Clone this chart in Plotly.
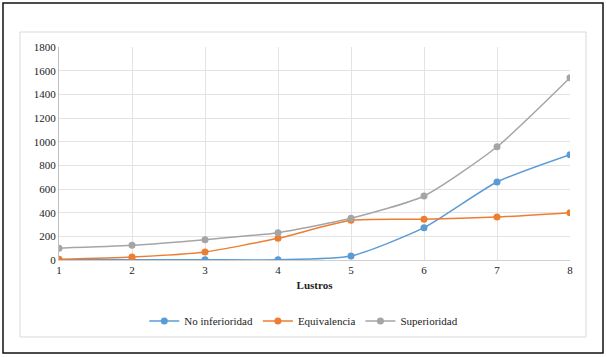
import plotly.graph_objects as go

lustros = [1, 2, 3, 4, 5, 6, 7, 8]
no_inferioridad = [2, 2, 2, 2, 34, 273, 659, 890]
equivalencia = [6, 25, 68, 183, 335, 344, 363, 400]
superioridad = [100, 124, 172, 231, 352, 541, 957, 1540]
y_ticks = [0, 200, 400, 600, 800, 1000, 1200, 1400, 1600, 1800]

series = [
    ("No inferioridad", no_inferioridad, "#5B9BD5"),
    ("Equivalencia", equivalencia, "#ED7D31"),
    ("Superioridad", superioridad, "#A5A5A5"),
]

fig = go.Figure()
for name, vals, color in series:
    fig.add_trace(go.Scatter(
        x=lustros, y=vals, name=name, mode="lines+markers",
        line=dict(color=color, width=1.5, shape="spline", smoothing=0.6),
        marker=dict(color=color, size=7),
    ))

font_family = "Times New Roman, Liberation Serif, serif"
fig.update_layout(
    width=607, height=357,
    margin=dict(l=59, r=37, t=47, b=97),
    paper_bgcolor="white", plot_bgcolor="white",
    font=dict(family=font_family, size=11, color="#222"),
    showlegend=True,
    legend=dict(orientation="h", x=0.479, y=-0.286, xanchor="center", yanchor="middle",
                font=dict(family=font_family, size=11, color="#222"),
                itemwidth=30, tracegroupgap=0, bgcolor="rgba(0,0,0,0)"),
    xaxis=dict(range=[1, 8], tickvals=lustros, showgrid=True, gridcolor="#e3e3e3",
               gridwidth=1, zeroline=False, showline=True, linecolor="#d0d0d0",
               ticks="", tickfont=dict(family=font_family, size=11),
               title=dict(text="<b>Lustros</b>", font=dict(family=font_family, size=11), standoff=6)),
    yaxis=dict(range=[0, 1800], tickvals=y_ticks, showgrid=True, gridcolor="#e3e3e3",
               zeroline=False, showline=True, linecolor="#bfbfbf", ticks="",
               tickfont=dict(family=font_family, size=11), ticksuffix="  "),
    shapes=[
        dict(type="rect", xref="paper", yref="paper", x0=-0.1096, x1=1.0646,
             y0=-0.4366, y1=1.2066, line=dict(color="#111", width=1.5), layer="below"),
        dict(type="rect", xref="paper", yref="paper", x0=-0.0763, x1=1.0313,
             y0=-0.3615, y1=1.0704, line=dict(color="#d9d9d9", width=1), layer="below"),
    ],
)

fig.write_html("out.html", config={"displayModeBar": False},
               post_script="document.body.style.margin='0';document.body.style.padding='0';")
